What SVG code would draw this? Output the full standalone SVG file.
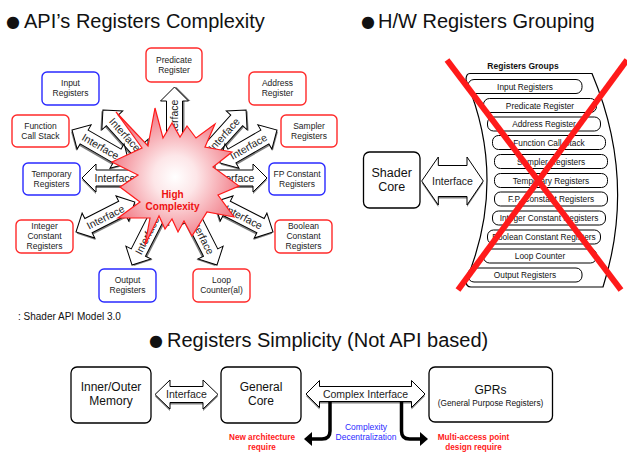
<svg xmlns="http://www.w3.org/2000/svg" width="627" height="453" viewBox="0 0 627 453">
<defs>
  <radialGradient id="burst" gradientUnits="userSpaceOnUse" cx="175" cy="177" r="72">
    <stop offset="0" stop-color="#ffffff"/>
    <stop offset="0.3" stop-color="#fde6e8"/>
    <stop offset="1" stop-color="#f06e7a"/>
  </radialGradient>
  <!-- double-headed block arrow used around the burst -->
  <path id="dbl" d="M-33,0 L-19,-14 L-19,-8 L19,-8 L19,-14 L33,0 L19,14 L19,8 L-19,8 L-19,14 Z"/>
  <marker id="head" markerUnits="userSpaceOnUse" markerWidth="9" markerHeight="14" refX="1" refY="7" orient="auto" viewBox="0 0 9 14">
    <path d="M0,0 L8,7 L0,14 Z" fill="#000"/>
  </marker>
</defs>
<style>
  text{font-family:"Liberation Sans",Arial,sans-serif;fill:#111}
  .title{font-size:20px}
  .bul{font-family:"DejaVu Sans",sans-serif;font-size:16px}
  .reg rect{fill:#fff;stroke-width:1.4}
  .red rect{stroke:#ff2a2a}
  .blue rect{stroke:#2a2aff}
  .reg text{font-size:8.5px;text-anchor:middle;fill:#222}
  .sh{fill:#808080}
  .ar{fill:#fff;stroke:#000;stroke-width:1}
  .lbl{font-size:10.5px;text-anchor:middle;fill:#222}
  .pill rect{fill:#fff;stroke:#000;stroke-width:1}
  .pill text{font-size:8.3px;text-anchor:middle;fill:#111}
  .box rect{fill:#fff;stroke:#000;stroke-width:1.3}
  .box text{font-size:12px;text-anchor:middle}
  .bent{fill:none;stroke:#000;stroke-width:3.5;marker-end:url(#head)}
  .note-r{font-size:8.2px;font-weight:bold;fill:#ff1a1a;text-anchor:middle}
  .note-b{font-size:8.5px;fill:#2a2aff;text-anchor:middle}
  .hot{font-size:10px;font-weight:bold;text-anchor:middle;fill:#ee1111}
</style>

<!-- section titles -->
<text class="bul" x="6" y="26.5">●</text>
<text class="title" x="24" y="27.5">API’s Registers Complexity</text>
<text class="bul" x="361" y="26.5">●</text>
<text class="title" x="378" y="27.5">H/W Registers Grouping</text>
<text class="bul" x="149" y="346">●</text>
<text class="title" x="167" y="347">Registers Simplicity (Not API based)</text>

<!-- radial interface arrows -->
<g id="connectors">
  <g id="a-pred" transform="translate(174.5,120) rotate(-90)"><use href="#dbl" class="sh" transform="translate(0,2)"/><use href="#dbl" class="ar"/><text class="lbl" y="3.8">Interface</text></g>
  <g id="a-input" transform="translate(125,134.5) rotate(48)"><use href="#dbl" class="sh" transform="translate(0,2)"/><use href="#dbl" class="ar"/><text class="lbl" y="3.8">Interface</text></g>
  <g id="a-addr" transform="translate(224,134.5) rotate(-48)"><use href="#dbl" class="sh" transform="translate(0,2)"/><use href="#dbl" class="ar"/><text class="lbl" y="3.8">Interface</text></g>
  <g id="a-func" transform="translate(100.6,146.5) rotate(30)"><use href="#dbl" class="sh" transform="translate(0,2)"/><use href="#dbl" class="ar"/><text class="lbl" y="3.8">Interface</text></g>
  <g id="a-samp" transform="translate(248.4,146.5) rotate(-30)"><use href="#dbl" class="sh" transform="translate(0,2)"/><use href="#dbl" class="ar"/><text class="lbl" y="3.8">Interface</text></g>
  <g id="a-temp" transform="translate(115,178)"><use href="#dbl" class="sh" transform="translate(0,2)"/><use href="#dbl" class="ar"/><text class="lbl" y="3.8">Interface</text></g>
  <g id="a-fp" transform="translate(234,178)"><use href="#dbl" class="sh" transform="translate(0,2)"/><use href="#dbl" class="ar"/><text class="lbl" y="3.8">Interface</text></g>
  <g id="a-int" transform="translate(105.4,217) rotate(-27)"><use href="#dbl" class="sh" transform="translate(0,2)"/><use href="#dbl" class="ar"/><text class="lbl" y="3.8">Interface</text></g>
  <g id="a-bool" transform="translate(243.6,217) rotate(27)"><use href="#dbl" class="sh" transform="translate(0,2)"/><use href="#dbl" class="ar"/><text class="lbl" y="3.8">Interface</text></g>
  <g id="a-out" transform="translate(147,235.6) rotate(-63)"><use href="#dbl" class="sh" transform="translate(0,2)"/><use href="#dbl" class="ar"/><text class="lbl" y="3.8">Interface</text></g>
  <g id="a-loop" transform="translate(202,235.6) rotate(63)"><use href="#dbl" class="sh" transform="translate(0,2)"/><use href="#dbl" class="ar"/><text class="lbl" y="3.8">Interface</text></g>

  <!-- Shader Core to register groups -->
  <g id="a-shader">
    <path class="sh" transform="translate(0,2)" d="M421.7,181 L438.3,157 L438.3,165.5 L467,165.5 L467,157 L483.3,181 L467,205 L467,196.5 L438.3,196.5 L438.3,205 Z"/>
    <path class="ar" d="M421.7,181 L438.3,157 L438.3,165.5 L467,165.5 L467,157 L483.3,181 L467,205 L467,196.5 L438.3,196.5 L438.3,205 Z"/>
    <text class="lbl" x="452.5" y="184.7">Interface</text>
  </g>

  <!-- bottom row -->
  <g id="a-mem">
    <path class="sh" transform="translate(0,2)" d="M155,394.5 L170,380 L170,386.5 L203,386.5 L203,380 L218,394.5 L203,409 L203,402.5 L170,402.5 L170,409 Z"/>
    <path class="ar" d="M155,394.5 L170,380 L170,386.5 L203,386.5 L203,380 L218,394.5 L203,409 L203,402.5 L170,402.5 L170,409 Z"/>
    <text class="lbl" x="186.5" y="398.2">Interface</text>
  </g>
  <g id="a-complex">
    <path class="sh" transform="translate(0,2)" d="M306,394 L319.5,380.5 L319.5,386.5 L411.5,386.5 L411.5,380.5 L425,394 L411.5,407.5 L411.5,401.5 L319.5,401.5 L319.5,407.5 Z"/>
    <path class="ar" d="M306,394 L319.5,380.5 L319.5,386.5 L411.5,386.5 L411.5,380.5 L425,394 L411.5,407.5 L411.5,401.5 L319.5,401.5 L319.5,407.5 Z"/>
    <text class="lbl" x="365.5" y="397.7">Complex Interface</text>
  </g>
  <path class="bent" d="M330,402 L330,431 Q330,439 322,439 L311,439"/>
  <path class="bent" d="M401.5,402 L401.5,431 Q401.5,439 409.5,439 L421,439"/>
</g>

<!-- central burst -->
<g id="burst-node">
  <polygon points="155,108 163,138 172,123 180,137 187,126 196,138 215,124 205,147 232,152 213,167 239,186 218,195 234,217 207,212 192,236 184,221 178,232 172,219 165,229 159,216 145,245 150,218 118,218 140,202 120,187 138,175 112,162 142,148 116,112 148,146" fill="url(#burst)" stroke="#ff1a1a" stroke-width="1.2"/>
  <text class="hot" x="172.5" y="198">High</text>
  <text class="hot" x="172.5" y="209.5">Complexity</text>
</g>

<!-- API register nodes -->
<g id="n-pred" class="reg red"><rect x="146" y="48" width="56" height="34" rx="5"/><text x="174" y="62.5">Predicate</text><text x="174" y="72.5">Register</text></g>
<g id="n-input" class="reg blue"><rect x="42" y="72" width="57" height="33" rx="5"/><text x="70.5" y="86">Input</text><text x="70.5" y="96">Registers</text></g>
<g id="n-addr" class="reg red"><rect x="249" y="72" width="57" height="33" rx="5"/><text x="277.5" y="86">Address</text><text x="277.5" y="96">Register</text></g>
<g id="n-func" class="reg red"><rect x="12" y="115" width="57" height="32" rx="5"/><text x="40.5" y="128.5">Function</text><text x="40.5" y="138.5">Call Stack</text></g>
<g id="n-samp" class="reg red"><rect x="281" y="115" width="56" height="32" rx="5"/><text x="309" y="128.5">Sampler</text><text x="309" y="138.5">Registers</text></g>
<g id="n-temp" class="reg blue"><rect x="23" y="163" width="57" height="32" rx="5"/><text x="51.5" y="176.5">Temporary</text><text x="51.5" y="186.5">Registers</text></g>
<g id="n-fp" class="reg blue"><rect x="269" y="163" width="56" height="32" rx="5"/><text x="297" y="176.5">FP Constant</text><text x="297" y="186.5">Registers</text></g>
<g id="n-int" class="reg red"><rect x="16" y="220" width="57" height="33" rx="5"/><text x="44.5" y="229">Integer</text><text x="44.5" y="239">Constant</text><text x="44.5" y="249">Registers</text></g>
<g id="n-bool" class="reg red"><rect x="275" y="220" width="57" height="33" rx="5"/><text x="303.5" y="229">Boolean</text><text x="303.5" y="239">Constant</text><text x="303.5" y="249">Registers</text></g>
<g id="n-out" class="reg blue"><rect x="99" y="269" width="57" height="33" rx="5"/><text x="127.5" y="283">Output</text><text x="127.5" y="293">Registers</text></g>
<g id="n-loop" class="reg red"><rect x="193" y="269" width="57" height="33" rx="5"/><text x="221.5" y="283">Loop</text><text x="221.5" y="293">Counter(al)</text></g>

<text x="18" y="319.5" font-size="10px">: Shader API Model 3.0</text>

<!-- H/W grouping -->
<g id="n-shader" class="box"><rect x="363.5" y="152" width="56.5" height="56" rx="6"/><text x="391.7" y="177" style="font-size:12.5px">Shader</text><text x="391.7" y="190.5" style="font-size:12.5px">Core</text></g>

<g id="n-groups">
  <path d="M470,73.5 L592,73.5 Q637,180 603,287 L471,287 Q466,287 466,281 Q508,180 466,80 Q466,73.5 470,73.5 Z" fill="#fff" stroke="#000" stroke-width="1.2"/>
  <text x="523" y="69" font-size="8.5px" font-weight="bold" text-anchor="middle">Registers Groups</text>
  <g class="pill">
    <rect x="468" y="79.5" width="114" height="14" rx="6"/><text x="525" y="89.5">Input Registers</text>
    <rect x="483.5" y="98.5" width="113" height="14" rx="6"/><text x="540" y="108.5">Predicate Register</text>
    <rect x="487.5" y="117" width="113" height="14" rx="6"/><text x="544" y="127">Address Register</text>
    <rect x="492.5" y="135.5" width="113" height="14" rx="6"/><text x="549" y="145.5">Function Call Stack</text>
    <rect x="494.5" y="154.5" width="113" height="14" rx="6"/><text x="551" y="164.5">Sampler Registers</text>
    <rect x="494.5" y="173.5" width="113" height="14" rx="6"/><text x="551" y="183.5">Temporary Registers</text>
    <rect x="494.5" y="192" width="113" height="14" rx="6"/><text x="551" y="202">F.P. Constant Registers</text>
    <rect x="492.5" y="211" width="113" height="14" rx="6"/><text x="549" y="221">Integer Constant Registers</text>
    <rect x="487.5" y="230" width="113" height="14" rx="6"/><text x="544" y="240">Boolean Constant Registers</text>
    <rect x="483.5" y="249" width="113" height="14" rx="6"/><text x="540" y="259">Loop Counter</text>
    <rect x="468" y="268" width="114" height="14" rx="6"/><text x="525" y="278">Output Registers</text>
  </g>
</g>

<!-- cross-out -->
<g id="cross" stroke="#ff1a1a" stroke-width="6">
  <line x1="447" y1="60" x2="621" y2="290"/>
  <line x1="627" y1="60" x2="458" y2="290"/>
</g>

<!-- bottom row nodes -->
<g id="n-mem" class="box"><rect x="71" y="367" width="80" height="56" rx="6"/><text x="111" y="391">Inner/Outer</text><text x="111" y="405">Memory</text></g>
<g id="n-core" class="box"><rect x="221" y="367" width="80" height="56" rx="6"/><text x="261" y="391">General</text><text x="261" y="405">Core</text></g>
<g id="n-gpr" class="box"><rect x="429" y="367" width="123.5" height="55" rx="6"/><text x="490.5" y="394">GPRs</text><text x="490.5" y="405.5" style="font-size:8.3px">(General Purpose Registers)</text></g>

<text class="note-b" x="366" y="430">Complexity</text>
<text class="note-b" x="366" y="439.5">Decentralization</text>
<text class="note-r" x="262" y="440">New architecture</text>
<text class="note-r" x="262" y="450">require</text>
<text class="note-r" x="473.5" y="439.5">Multi-access point</text>
<text class="note-r" x="473.5" y="449.5">design require</text>
</svg>
